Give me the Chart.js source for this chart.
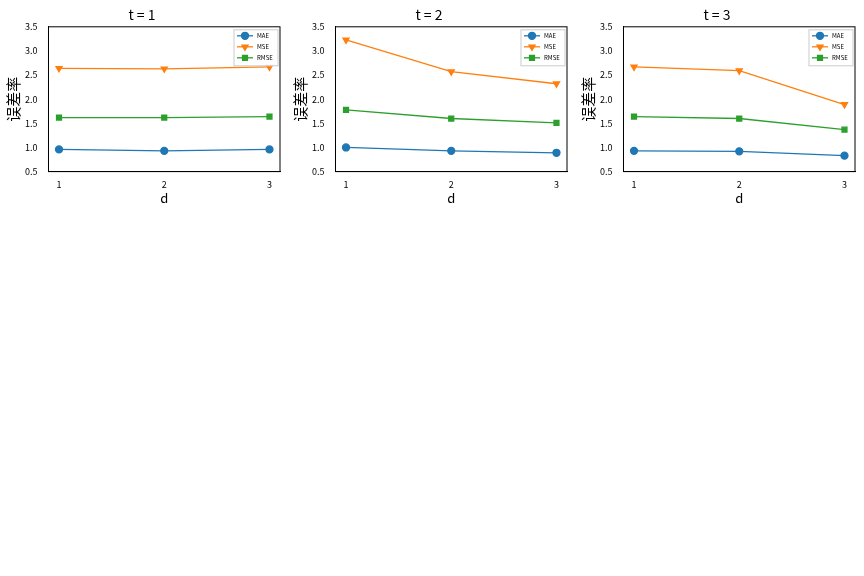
<!DOCTYPE html>
<html><head><meta charset="utf-8">
<script src="https://cdn.jsdelivr.net/npm/chart.js@4"></script>
<style>
body{margin:0;background:#fff;width:864px;height:576px;position:relative}
.box{position:absolute;top:0;width:290px;height:206px}
</style></head><body>
<div class="box" style="left:0"><canvas id="c1"></canvas></div>
<div class="box" style="left:287px"><canvas id="c2"></canvas></div>
<div class="box" style="left:575px"><canvas id="c3"></canvas></div>
<script>
// values
const dValues = [1, 2, 3];
const titles = ['t = 1', 't = 2', 't = 3'];
const maeT = [[0.96, 0.93, 0.96], [1.00, 0.93, 0.89], [0.93, 0.92, 0.83]];
const mseT = [[2.64, 2.63, 2.67], [3.23, 2.57, 2.32], [2.67, 2.59, 1.89]];
const rmseT = [[1.62, 1.62, 1.64], [1.78, 1.60, 1.51], [1.64, 1.60, 1.37]];
const yTicks = [0.5, 1.0, 1.5, 2.0, 2.5, 3.0, 3.5];

const font = 'SimHei, "Noto Sans CJK SC", "DejaVu Sans", sans-serif';

function pts(vals) { return vals.map((v, i) => ({x: dValues[i], y: v})); }

function ds(label, vals, color, style, rot) {
    return {label, data: pts(vals), borderColor: color, backgroundColor: color,
        pointStyle: style, pointRotation: rot, pointRadius: 3.5, borderWidth: 1.3, tension: 0};
}

// small legend box in the upper right corner of the plot
const legendBox = {id: 'legendBox', afterDraw(c) {
    const a = c.chartArea, g = c.ctx;
    const w = 44, h = 36, x0 = a.right - w - 2, y0 = a.top + 3;
    g.save();
    g.fillStyle = 'rgba(255,255,255,0.85)'; g.strokeStyle = '#ccc'; g.lineWidth = 1;
    g.fillRect(x0, y0, w, h); g.strokeRect(x0, y0, w, h);
    c.data.datasets.forEach((d, i) => {
        const y = y0 + 6 + i * 11;
        g.strokeStyle = d.borderColor; g.lineWidth = 1.3;
        g.beginPath(); g.moveTo(x0 + 3, y); g.lineTo(x0 + 19, y); g.stroke();
        Chart.helpers.drawPoint(g, {pointStyle: d.pointStyle, rotation: d.pointRotation, radius: 3.5,
            borderWidth: 1}, x0 + 11, y);
        g.fillStyle = d.borderColor;
        g.beginPath();
        Chart.helpers.drawPoint(g, {pointStyle: d.pointStyle, rotation: d.pointRotation, radius: 3.5,
            borderWidth: 0}, x0 + 11, y);
        g.fillStyle = '#000'; g.font = '6px ' + font; g.textBaseline = 'middle';
        g.fillText(d.label, x0 + 23, y);
    });
    g.strokeStyle = '#000'; g.lineWidth = 1;
    g.strokeRect(a.left, a.top, a.right - a.left, a.bottom - a.top);
    g.restore();
}};

function makeChart(id, k) {
    new Chart(document.getElementById(id), {
        type: 'line',
        data: {datasets: [
            ds('MAE', maeT[k], '#1f77b4', 'circle', 0),
            ds('MSE', mseT[k], '#ff7f0e', 'triangle', 180),
            ds('RMSE', rmseT[k], '#2ca02c', 'rect', 0)
        ]},
        options: {
            responsive: true, maintainAspectRatio: false, animation: false,
            layout: {padding: {left: 4, right: 10, top: 0, bottom: 0}},
            plugins: {
                title: {display: true, text: titles[k], color: '#000',
                    font: {family: font, size: 14, weight: 'normal'}, padding: {top: 6, bottom: 4}},
                legend: {display: false},
                tooltip: {enabled: false}
            },
            scales: {
                x: {type: 'linear', min: 0.9, max: 3.1,
                    afterBuildTicks: ax => { ax.ticks = dValues.map(v => ({value: v})); },
                    grid: {display: false},
                    border: {color: '#000'},
                    ticks: {color: '#000', font: {family: font, size: 9}, padding: 0},
                    title: {display: true, text: 'd', color: '#000', font: {family: font, size: 13}, padding: 0}},
                y: {min: 0.5, max: 3.5,
                    afterBuildTicks: ax => { ax.ticks = yTicks.map(v => ({value: v})); },
                    grid: {display: false},
                    border: {color: '#000'},
                    ticks: {color: '#000', font: {family: font, size: 9}, callback: v => v.toFixed(1)},
                    title: {display: true, text: '误差率', color: '#000', font: {family: font, size: 15}, padding: 0}}
            }
        },
        plugins: [legendBox]
    });
}
makeChart('c1', 0); makeChart('c2', 1); makeChart('c3', 2);
</script>
</body></html>
